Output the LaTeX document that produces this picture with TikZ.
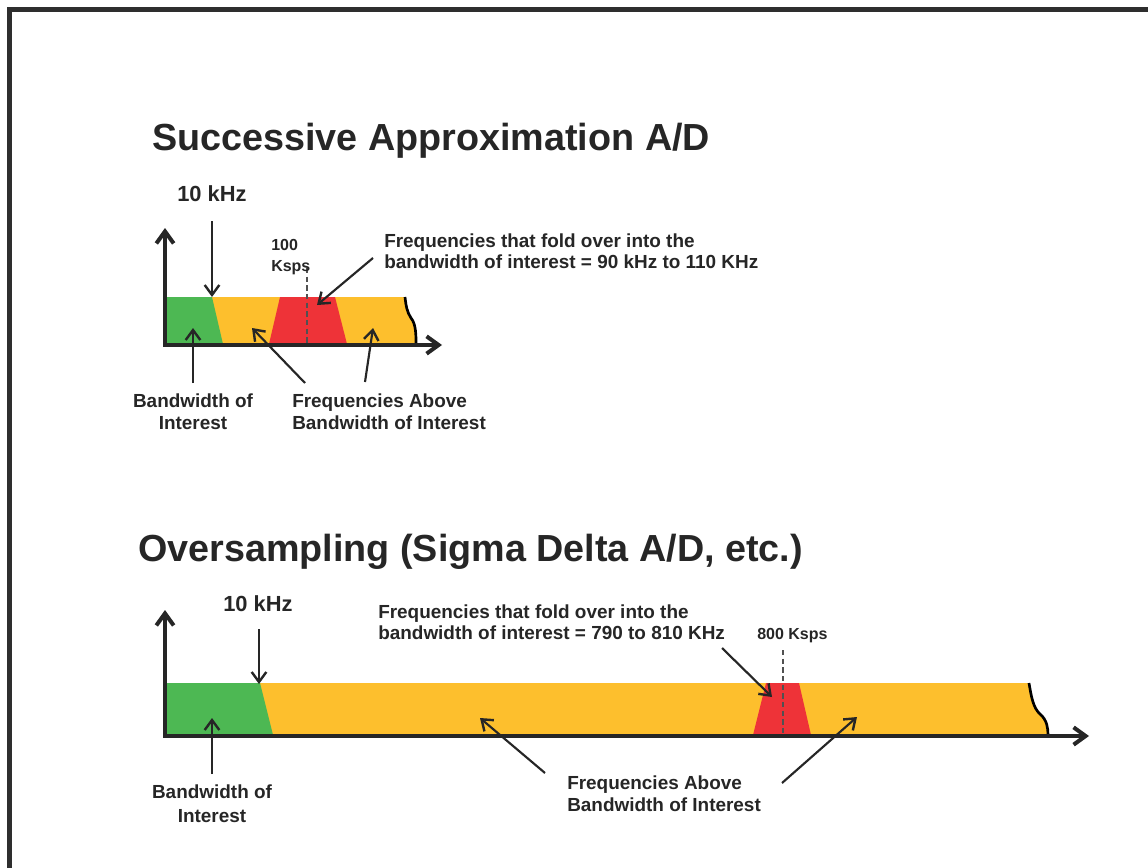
\documentclass[tikz,border=0pt]{standalone}
\usepackage{fontspec}
\setmainfont{Liberation Sans}
\usetikzlibrary{arrows.meta}
\definecolor{grn}{HTML}{4DB853}
\definecolor{org}{HTML}{FDBF2D}
\definecolor{rd}{HTML}{EE3338}
\definecolor{ink}{HTML}{262626}
\definecolor{frame}{HTML}{2E2E2E}
\begin{document}
\begin{tikzpicture}[x=0.75pt,y=-0.75pt,
  axisline/.style={draw=ink,line width=3pt,-{Straight Barb[length=9pt,width=13pt,line width=3pt]}},
  callout/.style={draw=ink,line width=1.6pt,-{Straight Barb[length=7.5pt,width=11pt,line width=1.8pt]}},
  wave/.style={draw=black,line width=2pt},
  marker/.style={draw=ink!80,line width=1pt,dash pattern=on 4pt off 2.5pt},
  titletext/.style={inner sep=0pt,anchor=base west,text=ink,font=\fontsize{28.3}{34}\selectfont\bfseries},
  freqtext/.style={inner sep=0pt,anchor=base west,text=ink,font=\fontsize{16.4}{20}\selectfont\bfseries},
  labeltext/.style={inner sep=0pt,anchor=base,text=ink,font=\fontsize{14.2}{16.5}\selectfont\bfseries},
  foldtext/.style={inner sep=0pt,anchor=base west,align=left,text=ink,font=\fontsize{14.2}{15.75}\selectfont\bfseries},
  ratetext/.style={inner sep=0pt,anchor=base west,text=ink,font=\fontsize{12}{15.75}\selectfont\bfseries}
]
\useasboundingbox (0,0) rectangle (1148,867);
\clip (0,0) rectangle (1148,867);
\fill[white] (0,0) rectangle (1148,867);
% frame
\draw[frame,line width=3.6pt] (9.5,880) -- (9.5,9.5) -- (1160,9.5);

% ---------- Top chart ----------
\node[titletext] (t1) at (152,150) {Successive Approximation A/D};
\fill[org] (165,297) -- (405,297) .. controls (406,306) and (407,312) .. (411,318) .. controls (416,324) and (416,335) .. (416,344) -- (165,344) -- cycle;
\fill[rd] (280,297) -- (335,297) -- (347,344) -- (269,344) -- cycle;
\fill[grn] (165,297) -- (212,297) -- (223,344) -- (165,344) -- cycle;
\draw[wave] (405,297) .. controls (406,306) and (407,312) .. (411,318) .. controls (416,324) and (416,335) .. (416,344);
\coordinate (m1a) at (307,268);
\coordinate (m1b) at (307,344);
\draw[marker] (m1a) -- (m1b);
\coordinate (o1) at (163,345);
\coordinate (y1) at (165,228);
\coordinate (x1) at (442,345);
\draw[axisline] (165,346.5) -- (y1);
\draw[axisline] (o1) -- (x1);

\node[freqtext] (k1) at (177,201) {10 kHz};
\coordinate (k1a) at (212,221);
\coordinate (k1b) at (212,297);
\draw[callout] (k1a) -- (k1b);

\node[ratetext,align=left] (r1) at (271,271) {100\\Ksps};

\node[foldtext] (f1) at (384,268) {Frequencies that fold over into the\\bandwidth of interest = 90 kHz to 110 KHz};
\coordinate (f1a) at (373,258);
\coordinate (f1b) at (317,305);
\draw[callout] (f1a) -- (f1b);

\node[labeltext,align=center] (b1) at (193,429) {Bandwidth of\\Interest};
\coordinate (b1a) at (193,383);
\coordinate (b1b) at (193,328);
\draw[callout] (b1a) -- (b1b);

\node[labeltext,anchor=base west,align=left] (a1) at (292,429) {Frequencies Above\\Bandwidth of Interest};
\coordinate (a1a) at (305,383);
\coordinate (a1b) at (252,328);
\coordinate (a1c) at (365,382);
\coordinate (a1d) at (373,328);
\draw[callout] (a1a) -- (a1b);
\draw[callout] (a1c) -- (a1d);

% ---------- Bottom chart ----------
\node[titletext] (t2) at (138,561) {Oversampling (Sigma Delta A/D, etc.)};
\fill[org] (165,683) -- (1029,683) .. controls (1031,695) and (1033,708) .. (1040,714) .. controls (1047,720) and (1048,728) .. (1048,735) -- (165,735) -- cycle;
\fill[rd] (766,683) -- (799,683) -- (811,735) -- (753,735) -- cycle;
\fill[grn] (165,683) -- (260,683) -- (273,735) -- (165,735) -- cycle;
\draw[wave] (1029,683) .. controls (1031,695) and (1033,708) .. (1040,714) .. controls (1047,720) and (1048,728) .. (1048,735);
\coordinate (m2a) at (783,650);
\coordinate (m2b) at (783,735);
\draw[marker] (m2a) -- (m2b);
\coordinate (o2) at (163,736);
\coordinate (y2) at (165,610);
\coordinate (x2) at (1089,736);
\draw[axisline] (165,737.5) -- (y2);
\draw[axisline] (o2) -- (x2);

\node[freqtext] (k2) at (223,611) {10 kHz};
\coordinate (k2a) at (259,629);
\coordinate (k2b) at (259,684);
\draw[callout] (k2a) -- (k2b);

\node[ratetext] (r2) at (757,639) {800 Ksps};

\node[foldtext] (f2) at (378,639) {Frequencies that fold over into the\\bandwidth of interest = 790 to 810 KHz};
\coordinate (f2a) at (722,648);
\coordinate (f2b) at (772,697);
\draw[callout] (f2a) -- (f2b);

\node[labeltext,align=center,font=\fontsize{14.2}{18}\selectfont\bfseries] (b2) at (212,822) {Bandwidth of\\Interest};
\coordinate (b2a) at (212,774);
\coordinate (b2b) at (212,718);
\draw[callout] (b2a) -- (b2b);

\node[labeltext,anchor=base west,align=left] (a2) at (567,811) {Frequencies Above\\Bandwidth of Interest};
\coordinate (a2a) at (545,773);
\coordinate (a2b) at (480,718);
\coordinate (a2c) at (782,783);
\coordinate (a2d) at (857,717);
\draw[callout] (a2a) -- (a2b);
\draw[callout] (a2c) -- (a2d);
\end{tikzpicture}
\end{document}
